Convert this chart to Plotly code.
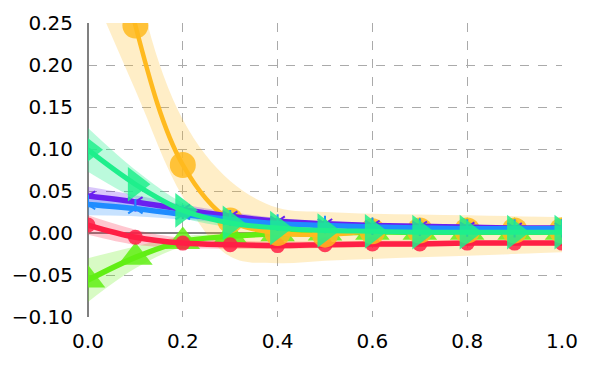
import plotly.graph_objects as go

x = [0.0, 0.1, 0.2, 0.3, 0.4, 0.5, 0.6, 0.7, 0.8, 0.9, 1.0]

green = [-0.056, -0.029, -0.010, -0.004, -0.001, 0.000, 0.001, 0.001, 0.001, 0.001, 0.001]
green_up = [-0.030, -0.016, -0.004, -0.001, 0.001, 0.002, 0.002, 0.002, 0.002, 0.002, 0.002]
green_lo = [-0.082, -0.042, -0.016, -0.007, -0.003, -0.002, -0.001, -0.001, 0.000, 0.000, 0.000]

red = [0.0095, -0.005, -0.012, -0.014, -0.015, -0.014, -0.013, -0.013, -0.012, -0.012, -0.012]
red_up = [0.021, 0.004, -0.006, -0.009, -0.010, -0.010, -0.009, -0.009, -0.009, -0.009, -0.009]
red_lo = [-0.002, -0.014, -0.018, -0.019, -0.019, -0.018, -0.017, -0.016, -0.015, -0.015, -0.015]

orange = [0.55, 0.247, 0.081, 0.015, 0.000, -0.002, 0.002, 0.003, 0.003, 0.003, 0.003]
orange_up = [0.85, 0.31, 0.135, 0.062, 0.030, 0.025, 0.023, 0.022, 0.021, 0.020, 0.019]
orange_lo = [0.30, 0.17, 0.043, -0.028, -0.036, -0.033, -0.031, -0.029, -0.027, -0.025, -0.023]

purple = [0.044, 0.037, 0.028, 0.020, 0.014, 0.011, 0.009, 0.008, 0.007, 0.006, 0.006]
purple_up = [0.055, 0.045, 0.034, 0.025, 0.018, 0.014, 0.012, 0.010, 0.009, 0.008, 0.008]
purple_lo = [0.033, 0.029, 0.022, 0.015, 0.010, 0.008, 0.006, 0.006, 0.005, 0.004, 0.004]

blue = [0.034, 0.029, 0.022, 0.016, 0.011, 0.009, 0.007, 0.006, 0.005, 0.005, 0.005]
blue_up = [0.043, 0.036, 0.027, 0.020, 0.014, 0.011, 0.009, 0.008, 0.007, 0.007, 0.007]
blue_lo = [0.021, 0.020, 0.016, 0.012, 0.008, 0.007, 0.005, 0.004, 0.003, 0.003, 0.003]

teal = [0.099, 0.058, 0.027, 0.012, 0.006, 0.003, 0.002, 0.001, 0.001, 0.001, 0.001]
teal_up = [0.125, 0.075, 0.036, 0.017, 0.009, 0.005, 0.003, 0.002, 0.002, 0.002, 0.002]
teal_lo = [0.073, 0.041, 0.018, 0.007, 0.003, 0.001, 0.000, 0.000, 0.000, 0.000, 0.000]

series = [
    # name, mean, up, lo, color, band rgba, symbol, size, lw, line-symbol
    ("green", green, green_up, green_lo, "#62EE14", "rgba(98,238,20,0.25)", "triangle-up", 30, 5.5, False),
    ("red", red, red_up, red_lo, "#FF1F45", "rgba(255,31,69,0.25)", "circle", 15, 5.5, False),
    ("orange", orange, orange_up, orange_lo, "#FFBA1F", "rgba(255,186,31,0.25)", "circle", 26, 4.5, False),
    ("purple", purple, purple_up, purple_lo, "#6A1FF0", "rgba(106,31,240,0.25)", "y-down", 12, 5.5, True),
    ("blue", blue, blue_up, blue_lo, "#1F8CFF", "rgba(31,140,255,0.25)", "y-up", 12, 5.5, True),
    ("teal", teal, teal_up, teal_lo, "#1FEE8C", "rgba(31,238,140,0.3)", "triangle-right", 30, 5, False),
]

fig = go.Figure()

for name, m, up, lo, col, band, sym, size, lw, is_line in series:
    fig.add_trace(go.Scatter(x=x, y=lo, mode="lines", line=dict(width=0, shape="spline"),
                             showlegend=False, hoverinfo="skip"))
    fig.add_trace(go.Scatter(x=x, y=up, mode="lines", line=dict(width=0, shape="spline"),
                             fill="tonexty", fillcolor=band, showlegend=False, hoverinfo="skip"))

for name, m, up, lo, col, band, sym, size, lw, is_line in series:
    if is_line:
        marker = dict(symbol=sym, size=size, color=col, line=dict(width=2, color=col))
    else:
        marker = dict(symbol=sym, size=size, color=col, opacity=0.85, line=dict(width=0))
    fig.add_trace(go.Scatter(x=x, y=m, mode="lines+markers", name=name,
                             line=dict(color=col, width=lw, shape="spline"),
                             marker=marker, showlegend=False))

fig.update_layout(
    width=600, height=375,
    margin=dict(l=80, r=46, t=15, b=66, autoexpand=False),
    paper_bgcolor="white", plot_bgcolor="white",
    font=dict(family="DejaVu Sans", size=20, color="black"),
    showlegend=False,
)
fig.update_xaxes(range=[0, 1], tickvals=[0, 0.2, 0.4, 0.6, 0.8, 1.0],
                 ticktext=["0.0", "0.2", "0.4", "0.6", "0.8", "1.0"],
                 showgrid=True, gridcolor="#aaaaaa", griddash="dash", gridwidth=1,
                 zeroline=True, zerolinecolor="#808080", zerolinewidth=2,
                 showline=False, ticks="", ticklabelstandoff=10, automargin=False)
fig.update_yaxes(range=[-0.1, 0.25], tickvals=[-0.1, -0.05, 0, 0.05, 0.1, 0.15, 0.2, 0.25],
                 ticktext=["\u22120.10", "\u22120.05", "0.00", "0.05", "0.10", "0.15", "0.20", "0.25"],
                 showgrid=True, gridcolor="#aaaaaa", griddash="dash", gridwidth=1,
                 zeroline=True, zerolinecolor="#808080", zerolinewidth=2,
                 showline=False, ticks="", ticklabelstandoff=14, automargin=False)

fig.write_html("out.html")
